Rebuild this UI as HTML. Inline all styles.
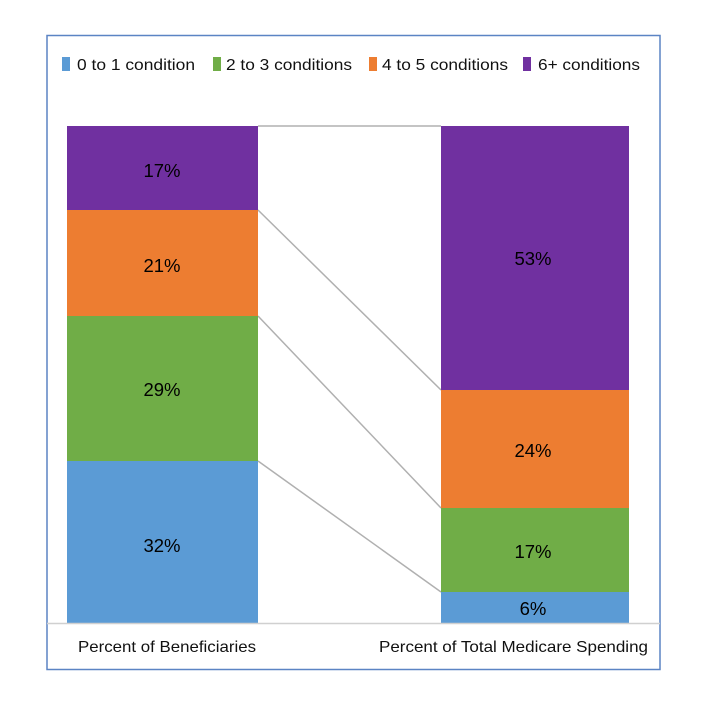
<!DOCTYPE html>
<html><head><style>
body{margin:0;background:#fff;}
svg{display:block;font-family:"Liberation Sans",Arial,sans-serif;}
</style></head><body>
<svg width="703" height="706" viewBox="0 0 703 706">
<rect x="47" y="35.5" width="613" height="634" fill="#fff" stroke="#5b84c4" stroke-width="1.5"/>
<g font-size="16" fill="#111" lengthAdjust="spacingAndGlyphs">
<rect x="62" y="57" width="8" height="14" fill="#5b9bd5"/><text x="77" y="70" textLength="118" lengthAdjust="spacingAndGlyphs">0 to 1 condition</text>
<rect x="213" y="57" width="8" height="14" fill="#70ad47"/><text x="226" y="70" textLength="126" lengthAdjust="spacingAndGlyphs">2 to 3 conditions</text>
<rect x="369" y="57" width="8" height="14" fill="#ed7d31"/><text x="382" y="70" textLength="126" lengthAdjust="spacingAndGlyphs">4 to 5 conditions</text>
<rect x="523" y="57" width="8" height="14" fill="#7030a0"/><text x="538" y="70" textLength="102" lengthAdjust="spacingAndGlyphs">6+ conditions</text>
</g>
<g stroke="#b0b0b0" stroke-width="1.5">
<line x1="258" y1="126" x2="441" y2="126"/>
<line x1="258" y1="210" x2="441" y2="390"/>
<line x1="258" y1="316" x2="441" y2="508"/>
<line x1="258" y1="461" x2="441" y2="592"/>
</g>
<rect x="67" y="126" width="191" height="84" fill="#7030a0"/>
<rect x="67" y="210" width="191" height="106" fill="#ed7d31"/>
<rect x="67" y="316" width="191" height="145" fill="#70ad47"/>
<rect x="67" y="461" width="191" height="162" fill="#5b9bd5"/>
<rect x="441" y="126" width="188" height="264" fill="#7030a0"/>
<rect x="441" y="390" width="188" height="118" fill="#ed7d31"/>
<rect x="441" y="508" width="188" height="84" fill="#70ad47"/>
<rect x="441" y="592" width="188" height="31" fill="#5b9bd5"/>
<line x1="47" y1="623.5" x2="660" y2="623.5" stroke="#d0d0d0" stroke-width="1.5"/>
<g font-size="18.5" fill="#000" text-anchor="middle">
<text x="162" y="177">17%</text>
<text x="162" y="272">21%</text>
<text x="162" y="396">29%</text>
<text x="162" y="552">32%</text>
<text x="533" y="265">53%</text>
<text x="533" y="457">24%</text>
<text x="533" y="558">17%</text>
<text x="533" y="615">6%</text>
</g>
<g font-size="16" fill="#111">
<text x="78" y="652" textLength="178" lengthAdjust="spacingAndGlyphs">Percent of Beneficiaries</text>
<text x="379" y="652" textLength="269" lengthAdjust="spacingAndGlyphs">Percent of Total Medicare Spending</text>
</g>
</svg>
</body></html>
